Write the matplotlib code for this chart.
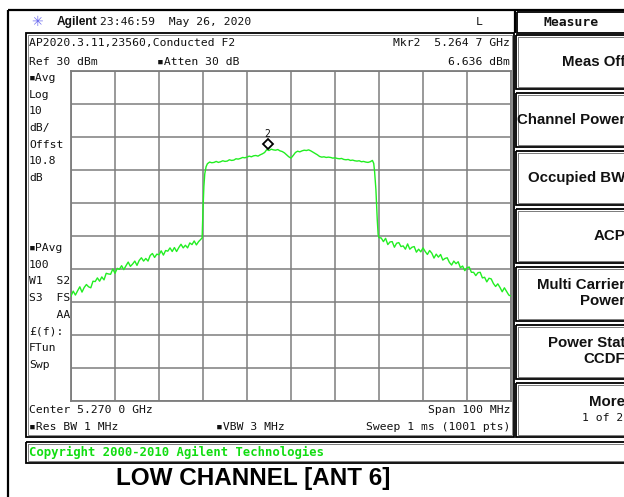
import matplotlib
matplotlib.use("Agg")
import matplotlib.pyplot as plt
import matplotlib.patches as mpatches
import matplotlib.transforms as mtransforms
from matplotlib.ticker import MultipleLocator

# ---------------- data ----------------
start_mhz = 5220.0
span_mhz = 100.0
ref_level_dbm = 30.0
db_per_div = 10.0

# frequency offsets from the start frequency (MHz)
offset_mhz = [
    0.0, 0.5, 1.0, 1.5, 2.0, 2.5, 3.0, 3.5, 4.0, 4.5, 5.0, 5.5, 6.0, 6.5, 7.0, 7.5,
    8.0, 8.5, 9.0, 9.5, 10.0, 10.5, 11.0, 11.5, 12.0, 12.5, 13.0, 13.5, 14.0, 14.5,
    15.0, 15.5, 16.0, 16.5, 17.0, 17.5, 18.0, 18.5, 19.0, 19.5, 20.0, 20.5, 21.0,
    21.5, 22.0, 22.5, 23.0, 23.5, 24.0, 24.5, 25.0, 25.5, 26.0, 26.5, 27.0, 27.5,
    28.0, 28.5, 29.0, 29.5, 29.8, 30.0, 30.2, 30.4, 30.7, 31.0, 31.5, 32.0, 32.5,
    33.0, 33.5, 34.0, 34.5, 35.0, 35.5, 36.0, 36.5, 37.0, 37.5, 38.0, 38.5, 39.0,
    39.5, 40.0, 40.5, 41.0, 41.5, 42.0, 42.5, 43.0, 43.5, 44.0, 44.5, 45.0, 45.5,
    46.0, 46.5, 47.0, 47.5, 48.0, 48.5, 49.0, 49.5, 50.0, 50.5, 51.0, 51.5, 52.0,
    52.5, 53.0, 53.5, 54.0, 54.5, 55.0, 55.5, 56.0, 56.5, 57.0, 57.5, 58.0, 58.5,
    59.0, 59.5, 60.0, 60.5, 61.0, 61.5, 62.0, 62.5, 63.0, 63.5, 64.0, 64.5, 65.0,
    65.5, 66.0, 66.5, 67.0, 67.5, 68.0, 68.5, 68.8, 69.0, 69.3, 69.6, 69.8, 70.0,
    70.5, 71.0, 71.5, 72.0, 72.5, 73.0, 73.5, 74.0, 74.5, 75.0, 75.5, 76.0, 76.5,
    77.0, 77.5, 78.0, 78.5, 79.0, 79.5, 80.0, 80.5, 81.0, 81.5, 82.0, 82.5, 83.0,
    83.5, 84.0, 84.5, 85.0, 85.5, 86.0, 86.5, 87.0, 87.5, 88.0, 88.5, 89.0, 89.5,
    90.0, 90.5, 91.0, 91.5, 92.0, 92.5, 93.0, 93.5, 94.0, 94.5, 95.0, 95.5, 96.0,
    96.5, 97.0, 97.5, 98.0, 98.5, 99.0, 99.5, 100.0,
]
level_dbm = [
    # lower skirt
    -38.2, -36.7, -37.9, -36.6, -35.4, -37.0, -35.6, -34.7, -35.4, -35.7,
    -33.7, -33.8, -32.7, -33.7, -32.4, -33.3, -31.3, -31.5, -31.6, -30.0,
    -31.3, -29.8, -30.1, -29.0, -30.2, -29.0, -27.9, -29.2, -28.5, -27.6,
    -28.9, -27.4, -26.6, -27.6, -26.8, -27.6, -25.9, -25.3, -26.5, -25.5,
    -25.7, -24.5, -25.8, -24.4, -24.6, -23.6, -24.7, -23.5, -24.7, -23.5,
    -22.5, -23.6, -22.8, -23.6, -22.1, -22.6, -21.5, -22.7, -21.7, -21.0,
    # rising edge
    -20.6, -12.0, -5.0, -1.2, 1.0,
    # channel plateau
    1.9, 2.4, 2.2, 2.3, 2.6, 2.3, 2.5, 2.8, 2.6, 2.7, 3.1, 2.9, 3.0, 3.4, 3.3,
    3.5, 3.8, 3.7, 3.9, 4.2, 4.0, 4.3, 4.4, 4.2, 4.6, 4.9, 5.3, 6.2, 5.9, 6.3,
    6.1, 6.0, 6.2, 5.8, 5.6, 5.2, 4.6, 4.0, 3.6, 4.4, 5.3, 5.7, 5.5, 5.8, 6.0,
    5.9, 6.1, 5.8, 5.4, 5.0, 4.6, 4.1, 3.9, 4.0, 3.8, 3.9, 3.8, 3.6, 3.7, 3.5,
    3.4, 3.5, 3.2, 3.1, 3.2, 2.9, 3.0, 2.8, 2.7, 2.8, 2.5, 2.6, 2.4, 2.3, 2.5,
    2.9, 2.0,
    # falling edge
    -0.5, -6.0, -15.0, -19.5, -20.5,
    # upper skirt
    -20.6, -21.7, -20.7, -22.6, -21.8, -21.7, -23.4, -22.2, -22.0, -23.2,
    -23.0, -24.0, -22.4, -24.0, -23.4, -23.2, -24.9, -24.0, -24.8, -23.6,
    -24.7, -25.6, -24.4, -25.2, -26.7, -25.5, -26.4, -25.6, -27.3, -26.8,
    -26.6, -28.0, -28.8, -27.6, -28.4, -27.8, -29.6, -29.1, -30.5, -29.6,
    -29.4, -31.0, -31.0, -32.0, -31.1, -31.0, -32.7, -32.5, -33.9, -32.8,
    -33.0, -34.4, -35.3, -34.5, -35.6, -36.9, -35.7, -36.8, -37.9, -38.2,
]
marker_freq_mhz = 5264.7
marker_level_dbm = 6.636

header_texts = ["Agilent", "23:46:59  May 26, 2020", "L"]
softkeys = ["Meas Off", "Channel Power", "Occupied BW", "ACP",
            "Multi Carrier\nPower", "Power Stat\nCCDF", "More"]
left_labels = ["\u25aaAvg", "Log", "10", "dB/", "Offst", "10.8", "dB"]
left_labels2 = ["\u25aaPAvg", "100", "W1  S2", "S3  FS", "    AA", "£(f):", "FTun", "Swp"]

# ---------------- figure ----------------
W, H = 624, 497
fig = plt.figure(figsize=(W / 100, H / 100), dpi=100)
fig.patch.set_facecolor("white")

bg = fig.add_axes([0, 0, 1, 1], zorder=0)
bg.set_xlim(0, W)
bg.set_ylim(H, 0)
bg.axis("off")

MONO = ["DejaVu Sans Mono", "DejaVu Sans"]
SANS = "Liberation Sans"
TXT = "#111111"


def rect(x0, y0, x1, y1, lw=1.0, ec="black", fc="none", z=1):
    bg.add_patch(mpatches.Rectangle((x0, y0), x1 - x0, y1 - y0, lw=lw,
                                    ec=ec, fc=fc, zorder=z))


def line(xs, ys, lw=1.0, c="black"):
    bg.plot(xs, ys, color=c, lw=lw, solid_capstyle="butt")


def mono(x, y, s, ha="left", size=8.2, **kw):
    bg.text(x, y, s, fontsize=size, family=MONO, color=kw.pop("color", TXT),
            ha=ha, va="center", **kw)


# outer frame lines
line([8, W + 2], [10, 10], lw=1.6)
line([8, 8], [10, H + 2], lw=1.6)
# header right separator
line([514.5, 514.5], [10, 33], lw=1.6)

# main screen box (double line)
rect(26, 33, 514, 437, lw=1.3)
rect(28, 35, 512, 435, lw=0.6, ec="#777777")

# Measure title box
rect(517, 11.5, W + 5, 33, lw=1.3)

# softkey boxes
box_tops = [35, 93, 151, 209, 267, 325, 383]
box_h = 54
for t in box_tops:
    rect(515.5, t, W + 5, t + box_h, lw=1.3)
    rect(517.5, t + 2, W + 5, t + box_h - 2, lw=0.6, ec="#666666")

# copyright box
rect(26, 441.5, W + 5, 463, lw=1.3)
rect(28, 443.5, W + 5, 461, lw=0.6, ec="#666666")

# ---- header ----
bg.text(37, 22, "\u2733", fontsize=10, color="#6a6aee", ha="center", va="center",
        family="DejaVu Sans")
bg.text(57, 22, header_texts[0], fontsize=8.6, fontweight="bold", family=SANS,
        color=TXT, ha="left", va="center")
mono(100, 22, header_texts[1])
mono(479.5, 22, header_texts[2], ha="center")
mono(571, 22, "Measure", ha="center", size=9.4, fontweight="bold")

# ---- screen annotations ----
mono(29, 43, "AP2020.3.11,23560,Conducted F2")
mono(29, 62, "Ref 30 dBm")
mono(157, 62, "\u25aaAtten 30 dB")
mono(510, 43, "Mkr2  5.264 7 GHz", ha="right")
mono(510, 62, "6.636 dBm", ha="right")

for i, s in enumerate(left_labels):
    mono(29, 78 + i * 16.7, s)
for i, s in enumerate(left_labels2):
    mono(29, 248 + i * 16.7, s)

mono(29, 410, "Center 5.270 0 GHz")
mono(510, 410, "Span 100 MHz", ha="right")
mono(29, 427, "\u25aaRes BW 1 MHz")
mono(216, 427, "\u25aaVBW 3 MHz")
mono(510, 427, "Sweep 1 ms (1001 pts)", ha="right")

mono(29, 452, "Copyright 2000-2010 Agilent Technologies", size=8.8,
     fontweight="bold", color="#11dd11")

# ---- softkey labels ----
sk_y = [62, 120, 178, 236, 293, 351, 402]
for s, y in zip(softkeys, sk_y):
    bg.text(625.5, y, s, fontsize=10.8, fontweight="bold", family=SANS, color=TXT,
            ha="right", va="center", linespacing=1.1)
mono(623, 418, "1 of 2", ha="right")

# ---- caption ----
bg.text(253, 479, "LOW CHANNEL [ANT 6]", fontsize=17.5, fontweight="bold",
        family=SANS, color="black", ha="center", va="center")

# ---------------- trace axes ----------------
gx0, gx1, gy0, gy1 = 71, 511, 71, 401
ax = fig.add_axes([gx0 / W, (H - gy1) / H, (gx1 - gx0) / W, (gy1 - gy0) / H],
                  zorder=2)
ax.set_facecolor("none")
ax.set_xlim(start_mhz, start_mhz + span_mhz)
ax.set_ylim(ref_level_dbm - 10 * db_per_div, ref_level_dbm)
ax.xaxis.set_major_locator(MultipleLocator(span_mhz / 10))
ax.yaxis.set_major_locator(MultipleLocator(db_per_div))
ax.grid(True, color="#7d7d7d", lw=1.1)
ax.tick_params(length=0, labelbottom=False, labelleft=False)
for sp in ax.spines.values():
    sp.set_color("#7d7d7d")
    sp.set_linewidth(1.3)

freqs = [start_mhz + o for o in offset_mhz]
ax.plot(freqs, level_dbm, color="#22ee22", lw=1.0, zorder=3)

# marker 2 (diamond drawn just above the trace point)
off = mtransforms.offset_copy(ax.transData, fig=fig, x=0, y=3.2, units="points")
ax.plot([marker_freq_mhz], [marker_level_dbm], marker="D", ms=5.0, mfc="white",
        mec="black", mew=1.3, transform=off, zorder=4, clip_on=False)
off2 = mtransforms.offset_copy(ax.transData, fig=fig, x=0, y=10.5, units="points")
ax.text(marker_freq_mhz, marker_level_dbm, "2", fontsize=7, family=MONO,
        color=TXT, ha="center", va="center", transform=off2)

fig.savefig("out.png", dpi=100, facecolor="white")
